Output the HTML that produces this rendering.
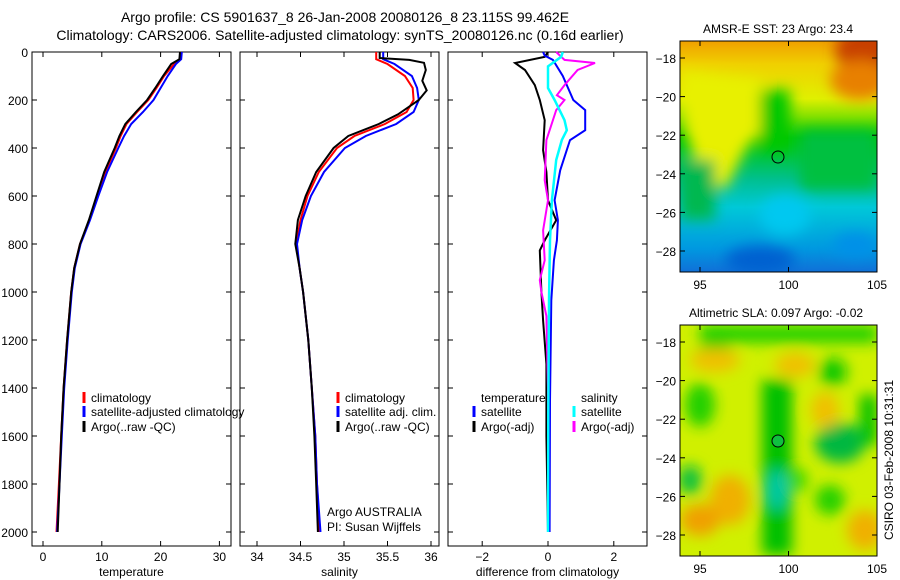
<!DOCTYPE html>
<html><head><meta charset="utf-8"><style>
body{margin:0;background:#fff;}
svg{display:block;font-family:"Liberation Sans",sans-serif;}
text{font-size:12px;fill:#000;}
</style></head><body>
<svg id="fig" width="900" height="580" viewBox="0 0 900 580" xmlns="http://www.w3.org/2000/svg">
<defs>
<filter id="blur" x="-10%" y="-10%" width="120%" height="120%"><feGaussianBlur stdDeviation="7"/></filter>
<clipPath id="c1"><rect x="680" y="41" width="197" height="231"/></clipPath>
<clipPath id="c2"><rect x="680" y="325" width="197" height="231"/></clipPath>
<linearGradient id="sstg" x1="0" y1="0" x2="0" y2="1">
<stop offset="0" stop-color="#f0a000"/><stop offset="0.1" stop-color="#f0d000"/><stop offset="0.25" stop-color="#e0f000"/><stop offset="0.33" stop-color="#80e000"/><stop offset="0.42" stop-color="#00c800"/><stop offset="0.6" stop-color="#00c090"/><stop offset="0.72" stop-color="#00c8d8"/><stop offset="0.9" stop-color="#0098e0"/><stop offset="1" stop-color="#1070d8"/></linearGradient>
</defs>
<text x="345" y="22" text-anchor="middle" style="font-size:14px">Argo profile: CS 5901637_8 26-Jan-2008 20080126_8 23.115S 99.462E</text>
<text x="340" y="40" text-anchor="middle" style="font-size:14px">Climatology: CARS2006. Satellite-adjusted climatology: synTS_20080126.nc (0.16d earlier)</text>
<g id="panels"></g>
<!-- SST map -->
<g clip-path="url(#c2)"></g>
<g clip-path="url(#c1)">
<rect x="680" y="41" width="197" height="231" fill="url(#sstg)"/>
<g filter="url(#blur)">
<path d="M680 70 L760 80 L770 120 L745 150 L725 190 L700 175 L685 130Z" fill="#e8f000"/>
<rect x="760" y="90" width="30" height="60" fill="#00c800"/>
<ellipse cx="870" cy="50" rx="35" ry="25" fill="#c84000"/>
<ellipse cx="860" cy="80" rx="30" ry="20" fill="#e88000"/>
<rect x="800" y="130" width="77" height="60" fill="#00c040"/>
<rect x="680" y="160" width="35" height="60" fill="#00b850"/>
<ellipse cx="760" cy="260" rx="35" ry="14" fill="#0060d0"/>
<ellipse cx="855" cy="245" rx="22" ry="12" fill="#0090e8"/>
<ellipse cx="785" cy="215" rx="25" ry="20" fill="#00c8f0"/>
</g>
</g>
<rect x="680" y="41" width="197" height="231" fill="none" stroke="#000"/>
<circle cx="778" cy="157" r="6" fill="none" stroke="#000"/>
<text x="778" y="33" text-anchor="middle">AMSR-E SST: 23 Argo: 23.4</text>
<!-- SLA map -->
<g clip-path="url(#c2)">
<rect x="680" y="325" width="197" height="231" fill="#d0f000"/>
<g filter="url(#blur)">
<rect x="700" y="325" width="177" height="18" fill="#20d000"/>
<ellipse cx="715" cy="350" rx="15" ry="15" fill="#20d000"/>
<ellipse cx="715" cy="360" rx="25" ry="12" fill="#f0c000"/>
<ellipse cx="795" cy="365" rx="20" ry="12" fill="#f0c000"/>
<ellipse cx="833" cy="372" rx="14" ry="14" fill="#10c800"/>
<rect x="762" y="380" width="30" height="175" fill="#00c000"/>
<ellipse cx="777" cy="490" rx="12" ry="20" fill="#00c8a0"/>
<ellipse cx="700" cy="405" rx="15" ry="22" fill="#20d000"/>
<ellipse cx="840" cy="443" rx="25" ry="20" fill="#00b840"/>
<rect x="860" y="395" width="17" height="50" fill="#00c000"/>
<ellipse cx="825" cy="410" rx="14" ry="18" fill="#f0c000"/>
<ellipse cx="730" cy="500" rx="20" ry="25" fill="#f0b000"/>
<ellipse cx="700" cy="520" rx="20" ry="16" fill="#f0a000"/>
<ellipse cx="690" cy="480" rx="12" ry="15" fill="#10c040"/>
<ellipse cx="865" cy="530" rx="18" ry="20" fill="#f0b000"/>
<ellipse cx="830" cy="500" rx="15" ry="15" fill="#20d000"/>
<ellipse cx="798" cy="480" rx="10" ry="12" fill="#40d800"/>
</g>
</g>
<rect x="680" y="325" width="197" height="231" fill="none" stroke="#000"/>
<circle cx="778" cy="441" r="6" fill="#10c040" stroke="#000"/>
<text x="776" y="317" text-anchor="middle">Altimetric SLA: 0.097 Argo: -0.02</text>
<text transform="translate(893,460) rotate(-90)" text-anchor="middle">CSIRO 03-Feb-2008 10:31:31</text>
<g id="maptix"></g>
</svg>
<script>
// ---- data ----
var depthTicks=[0,200,400,600,800,1000,1200,1400,1600,1800,2000];
var tempTicks=[0,10,20,30];
var salTicks=[34,34.5,35,35.5,36];
var diffTicks=[-2,0,2];
var lonTicks=[95,100,105];
var latTicks=[-18,-20,-22,-24,-26,-28];
// temperature profiles
var tArgoD=[0,30,50,100,150,200,250,300,350,400,500,600,700,800,900,1000,1200,1400,1600,1800,2000];
var tArgoV=[23.3,23.2,21.8,20.4,19.1,17.7,15.8,14.0,13.0,12.2,10.4,9.1,7.8,6.3,5.3,4.8,4.1,3.5,3.1,2.8,2.5];
var tClimD=[0,30,50,100,150,200,250,300,350,400,500,600,700,800,900,1000,1200,1400,1600,1800,2000];
var tClimV=[23.4,23.3,22.3,20.6,19.3,17.9,16.0,14.2,13.2,12.4,10.6,9.2,7.9,6.3,5.3,4.8,4.1,3.5,3.1,2.7,2.3];
var tSatV=[23.6,23.5,22.6,21.2,20.0,18.8,17.0,15.0,13.8,12.8,10.9,9.4,8.0,6.4,5.4,4.9,4.2,3.6,3.2,2.8,2.4];
// salinity profiles
var sArgoD=[0,25,33,45,75,120,160,200,230,260,300,350,400,500,600,700,800,900,1000,1200,1400,1600,1800,2000];
var sArgoV=[35.41,35.41,35.75,35.92,35.94,35.90,35.95,35.86,35.74,35.62,35.40,35.05,34.88,34.68,34.56,34.47,34.44,34.49,34.53,34.59,34.63,34.66,34.68,34.70];
var sClimD=[0,30,50,100,150,200,250,300,350,400,500,600,700,800,900,1000,1200,1400,1600,1800,2000];
var sClimV=[35.37,35.37,35.50,35.70,35.79,35.80,35.72,35.47,35.12,34.92,34.71,34.58,34.50,34.45,34.49,34.53,34.59,34.63,34.67,34.69,34.72];
var sSatV=[35.45,35.45,35.58,35.78,35.84,35.86,35.80,35.60,35.25,35.01,34.77,34.62,34.52,34.46,34.49,34.53,34.59,34.63,34.67,34.69,34.73];
// differences from climatology
var dTArgoD=[0,20,46,75,138,200,284,409,500,618,701,785,827,1000,1119,1300,1600,2000];
var dTArgoV=[0,-0.1,-1.0,-0.7,-0.4,-0.25,-0.1,-0.15,-0.05,0,0.25,-0.1,-0.25,-0.2,-0.15,-0.05,-0.05,0];
var dTSatD=[0,15,33,100,200,242,326,367,493,618,701,785,868,1035,1453,2000];
var dTSatV=[-0.15,-0.1,0.15,0.45,0.77,1.13,1.13,0.67,0.37,0.2,0.3,0.27,0.18,0.1,0.06,0.05];
var dSCyD=[0,20,60,150,200,284,326,367,450,618,785,1035,1500,2000];
var dSCyV=[0.45,0.4,0,0,0.2,0.5,0.57,0.42,0.25,0.12,0.06,0.03,0.01,0];
var dSMaD=[0,33,46,75,138,180,200,242,367,534,618,743,868,950,1000,1100,1400,2000];
var dSMaV=[0.25,0.5,1.43,0.9,0.5,0.27,0.5,0.25,-0.05,-0.1,0,-0.15,-0.1,-0.25,-0.2,-0.05,0,0];

var NS="http://www.w3.org/2000/svg";
function el(tag,attrs,parent){var e=document.createElementNS(NS,tag);for(var k in attrs)e.setAttribute(k,attrs[k]);(parent||document.getElementById('panels')).appendChild(e);return e;}
function Y(d){return 52+d*0.24;}
var panels=[
 {l:32,r:231,x0:43,k:5.88,v0:0,ticks:tempTicks,label:'temperature',nm:'temperature'},
 {l:240,r:439,x0:257,k:87,v0:34,ticks:salTicks,label:'salinity',nm:'salinity'},
 {l:448,r:647,x0:548,k:32.9,v0:0,ticks:diffTicks,label:'difference from climatology',nm:'difference'}
];
function X(p,v){return p.x0+(v-p.v0)*p.k;}
panels.forEach(function(p,i){
 var g=el('g',{});
 
 
 var fr=el('rect',{x:p.l,y:52,width:p.r-p.l,height:494,fill:'none',stroke:'#000'},g);
 
 
 depthTicks.forEach(function(d){
  el('line',{x1:p.l,x2:p.l+5,y1:Y(d),y2:Y(d),stroke:'#000'},g);
  el('line',{x1:p.r-5,x2:p.r,y1:Y(d),y2:Y(d),stroke:'#000'},g);
  if(i==0){var t=el('text',{x:28,y:Y(d)+5,'text-anchor':'end'},g);t.textContent=d;
   
   }
 });
 p.ticks.forEach(function(v){
  var x=X(p,v);
  el('line',{x1:x,x2:x,y1:52,y2:57,stroke:'#000'},g);
  el('line',{x1:x,x2:x,y1:541,y2:546,stroke:'#000'},g);
  var t=el('text',{x:x,y:561,'text-anchor':'middle'},g);t.textContent=(v<0?'\u2212'+(-v):v);
  
  
 });
 var xl=el('text',{x:(p.l+p.r)/2,y:576,'text-anchor':'middle'},g);xl.textContent=p.label;
 
 
});
function line(p,D,V,col,name,w){
 var pts=D.map(function(d,j){return X(p,V[j]).toFixed(1)+','+Y(d).toFixed(1);}).join(' ');
 var e=el('polyline',{points:pts,fill:'none',stroke:col,'stroke-width':w||2});
 
 
}
line(panels[0],tClimD,tClimV,'#f00','temp-climatology-line');
line(panels[0],tClimD,tSatV,'#00f','temp-satellite-line');
line(panels[0],tArgoD,tArgoV,'#000','temp-argo-line');
line(panels[1],sClimD,sClimV,'#f00','sal-climatology-line');
line(panels[1],sClimD,sSatV,'#00f','sal-satellite-line');
line(panels[1],sArgoD,sArgoV,'#000','sal-argo-line');
line(panels[2],dTArgoD,dTArgoV,'#000','diff-temp-argo-line');
line(panels[2],dTSatD,dTSatV,'#00f','diff-temp-satellite-line');
line(panels[2],dSMaD,dSMaV,'#f0f','diff-sal-argo-line');
line(panels[2],dSCyD,dSCyV,'#0ff','diff-sal-satellite-line',2.5);
function leg(x,y,col,txt,name){
 if(col){var l=el('line',{x1:x,x2:x,y1:y-10,y2:y+1,stroke:col,'stroke-width':3});
  
  }
 var t=el('text',{x:x+7,y:y});t.textContent=txt;
 
 
}
leg(84,402,'#f00','climatology','legend-climatology');
leg(84,416,'#00f','satellite-adjusted climatology','legend-satellite-adjusted');
leg(84,431,'#000','Argo(..raw -QC)','legend-argo');
leg(338,402,'#f00','climatology','legend-sal-climatology');
leg(338,416,'#00f','satellite adj. clim.','legend-sal-satellite');
leg(338,431,'#000','Argo(..raw -QC)','legend-sal-argo');
leg(474,402,null,'temperature','legend-temperature-header');
leg(474,416,'#00f','satellite','legend-diff-temp-satellite');
leg(474,431,'#000','Argo(-adj)','legend-diff-temp-argo');
leg(574,402,null,'salinity','legend-salinity-header');
leg(574,416,'#0ff','satellite','legend-diff-sal-satellite');
leg(574,431,'#f0f','Argo(-adj)','legend-diff-sal-argo');
leg(320,516,null,'Argo AUSTRALIA','argo-australia-label');
leg(320,531,null,'PI: Susan Wijffels','pi-label');
// map ticks
var mg=document.getElementById('maptix');
[[41,272,58],[325,556,342]].forEach(function(m){
 lonTicks.forEach(function(lo){var x=700+(lo-95)*17.7;
  el('line',{x1:x,x2:x,y1:m[1]-5,y2:m[1],stroke:'#000'},mg);
  el('line',{x1:x,x2:x,y1:m[0],y2:m[0]+5,stroke:'#000'},mg);
  var t=el('text',{x:x,y:m[1]+17,'text-anchor':'middle'},mg);t.textContent=lo;
  
  });
 latTicks.forEach(function(la){var y=m[2]+(-18-la)*19.3;
  el('line',{x1:680,x2:685,y1:y,y2:y,stroke:'#000'},mg);
  el('line',{x1:872,x2:877,y1:y,y2:y,stroke:'#000'},mg);
  var t=el('text',{x:676,y:y+5,'text-anchor':'end'},mg);t.textContent='\u2212'+(-la);
  
  });
});
</script>
</body></html>
